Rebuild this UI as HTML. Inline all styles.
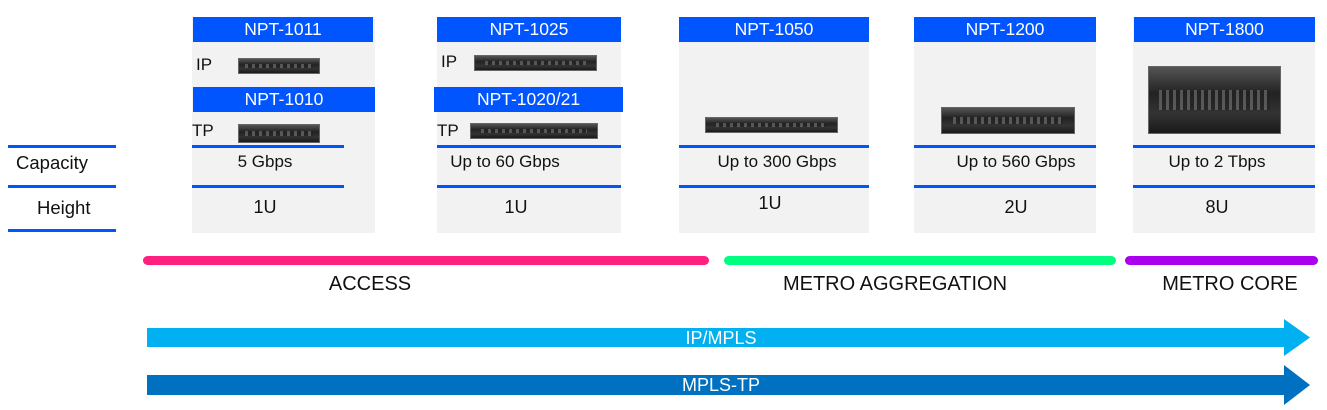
<!DOCTYPE html>
<html><head><meta charset="utf-8"><style>
*{margin:0;padding:0;box-sizing:border-box}
body{width:1327px;height:410px;background:#fff;position:relative;overflow:hidden;font-family:"Liberation Sans",Arial,sans-serif;color:#111}
.a{position:absolute}
.g{position:absolute;background:#f2f2f2;top:17px;height:216px}
.h{position:absolute;background:#0055ff;color:#fff;font-size:17.5px;height:25px;line-height:25px;text-align:center}
.l{position:absolute;background:#0055ff;height:3px}
.t{position:absolute;font-size:17px;text-align:center}
.dev{position:absolute;background:linear-gradient(#555,#222 40%,#333 70%,#1a1a1a);border:1px solid #666}
.dev::after{content:"";position:absolute;left:8%;right:8%;top:35%;height:30%;background:repeating-linear-gradient(90deg,#777 0 3px,#222 3px 7px);opacity:.6}
.bar{position:absolute;height:9px;border-radius:5px;top:256px}
.lab{position:absolute;font-size:20px;top:273px;text-align:center}
</style></head><body>
<!-- left labels -->
<div class="l" style="left:8px;width:108px;top:145px"></div>
<div class="a" style="left:16px;top:152px;font-size:18.5px">Capacity</div>
<div class="l" style="left:8px;width:108px;top:185px"></div>
<div class="a" style="left:37px;top:197px;font-size:18.5px">Height</div>
<div class="l" style="left:8px;width:108px;top:229px"></div>

<!-- col1 -->
<div class="g" style="left:192px;width:183px"></div>
<div class="h" style="left:193px;width:180px;top:17px">NPT-1011</div>
<div class="a" style="left:196px;top:55px;font-size:17px">IP</div>
<div class="dev" style="left:238px;top:58px;width:82px;height:16px"></div>
<div class="h" style="left:193px;width:182px;top:87px">NPT-1010</div>
<div class="a" style="left:192px;top:121px;font-size:17px">TP</div>
<div class="dev" style="left:238px;top:124px;width:82px;height:19px"></div>
<div class="l" style="left:192px;width:152px;top:145px"></div>
<div class="t" style="left:192px;width:146px;top:152px">5 Gbps</div>
<div class="l" style="left:192px;width:152px;top:185px"></div>
<div class="t" style="left:192px;width:146px;top:197px;font-size:18px">1U</div>

<!-- col2 -->
<div class="g" style="left:437px;width:184px"></div>
<div class="h" style="left:437px;width:184px;top:17px">NPT-1025</div>
<div class="a" style="left:441px;top:52px;font-size:17px">IP</div>
<div class="dev" style="left:474px;top:55px;width:123px;height:16px"></div>
<div class="h" style="left:434px;width:189px;top:87px">NPT-1020/21</div>
<div class="a" style="left:437px;top:121px;font-size:17px">TP</div>
<div class="dev" style="left:470px;top:123px;width:128px;height:16px"></div>
<div class="l" style="left:437px;width:184px;top:145px"></div>
<div class="t" style="left:437px;width:136px;top:152px">Up to 60 Gbps</div>
<div class="l" style="left:437px;width:184px;top:185px"></div>
<div class="t" style="left:437px;width:158px;top:197px;font-size:18px">1U</div>

<!-- col3 -->
<div class="g" style="left:679px;width:190px"></div>
<div class="h" style="left:679px;width:190px;top:17px">NPT-1050</div>
<div class="dev" style="left:705px;top:117px;width:133px;height:16px"></div>
<div class="l" style="left:679px;width:190px;top:145px"></div>
<div class="t" style="left:679px;width:196px;top:152px">Up to 300 Gbps</div>
<div class="l" style="left:679px;width:190px;top:185px"></div>
<div class="t" style="left:679px;width:182px;top:193px;font-size:18px">1U</div>

<!-- col4 -->
<div class="g" style="left:914px;width:182px"></div>
<div class="h" style="left:914px;width:182px;top:17px">NPT-1200</div>
<div class="dev" style="left:941px;top:107px;width:134px;height:27px"></div>
<div class="l" style="left:914px;width:182px;top:145px"></div>
<div class="t" style="left:914px;width:204px;top:152px">Up to 560 Gbps</div>
<div class="l" style="left:914px;width:182px;top:185px"></div>
<div class="t" style="left:914px;width:204px;top:197px;font-size:18px">2U</div>

<!-- col5 -->
<div class="g" style="left:1133px;width:182px"></div>
<div class="h" style="left:1134px;width:181px;top:17px">NPT-1800</div>
<div class="dev" style="left:1148px;top:66px;width:133px;height:68px"></div>
<div class="l" style="left:1133px;width:182px;top:145px"></div>
<div class="t" style="left:1133px;width:168px;top:152px">Up to 2 Tbps</div>
<div class="l" style="left:1133px;width:182px;top:185px"></div>
<div class="t" style="left:1133px;width:168px;top:197px;font-size:18px">8U</div>

<!-- bars -->
<div class="bar" style="left:143px;width:566px;background:#ff2080"></div>
<div class="bar" style="left:724px;width:392px;background:#00ff80"></div>
<div class="bar" style="left:1125px;width:193px;background:#aa00ee"></div>
<div class="lab" style="left:270px;width:200px">ACCESS</div>
<div class="lab" style="left:745px;width:300px">METRO AGGREGATION</div>
<div class="lab" style="left:1130px;width:200px">METRO CORE</div>

<!-- arrows -->
<svg class="a" style="left:0;top:0" width="1327" height="410">
<polygon points="147,328 1284,328 1284,319 1310,337.5 1284,356 1284,347 147,347" fill="#00b0f0"/>
<polygon points="147,375 1284,375 1284,365 1310,385 1284,405 1284,395 147,395" fill="#0070c0"/>
<text x="721" y="344" fill="#fff" font-size="18" text-anchor="middle" font-family="Liberation Sans, sans-serif">IP/MPLS</text>
<text x="721" y="391" fill="#fff" font-size="18" text-anchor="middle" font-family="Liberation Sans, sans-serif">MPLS-TP</text>
</svg>
</body></html>
